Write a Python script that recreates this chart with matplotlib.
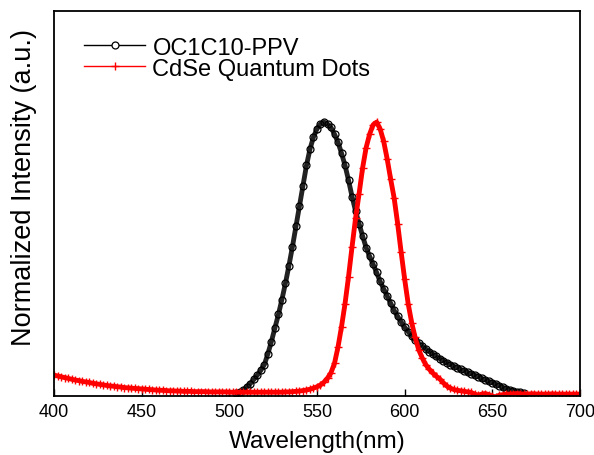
import matplotlib.pyplot as plt

# Espectros normalizados (nm, intensidad)
ppv_nm = [504, 506, 508, 510, 512, 514, 516, 518, 520, 522, 524, 526, 528, 530,
          532, 534, 536, 538, 540, 542, 544, 546, 548, 550, 552, 554, 556, 558,
          560, 562, 564, 566, 568, 570, 572, 574, 576, 578, 580, 582, 584, 586,
          588, 590, 592, 594, 596, 598, 600, 602, 604, 606, 608, 610, 612, 614,
          616, 618, 620, 622, 624, 626, 628, 630, 632, 634, 636, 638, 640, 642,
          644, 646, 648, 650, 652, 654, 656, 658, 660, 662, 664, 666, 668]
ppv_int = [0.000, 0.003, 0.010, 0.022, 0.035, 0.050, 0.066, 0.084, 0.105, 0.145,
           0.190, 0.240, 0.290, 0.345, 0.405, 0.470, 0.540, 0.615, 0.690, 0.765,
           0.840, 0.900, 0.945, 0.975, 0.993, 1.000, 0.993, 0.980, 0.955, 0.925,
           0.885, 0.840, 0.785, 0.725, 0.672, 0.625, 0.580, 0.537, 0.505, 0.475,
           0.445, 0.412, 0.385, 0.358, 0.332, 0.305, 0.283, 0.262, 0.243, 0.226,
           0.210, 0.196, 0.184, 0.173, 0.163, 0.153, 0.144, 0.135, 0.127, 0.119,
           0.112, 0.105, 0.099, 0.093, 0.087, 0.081, 0.076, 0.071, 0.066, 0.060,
           0.054, 0.048, 0.043, 0.038, 0.033, 0.027, 0.021, 0.016, 0.011, 0.007,
           0.004, 0.002, 0.000]

qd_nm = list(range(400, 702, 2))
qd_int = [0.066, 0.063, 0.060, 0.057, 0.054, 0.051, 0.048, 0.046, 0.043, 0.041,  # 400-418
          0.039, 0.036, 0.034, 0.032, 0.030, 0.028, 0.026, 0.025, 0.023, 0.022,  # 420-438
          0.020, 0.019, 0.018, 0.017, 0.016, 0.015, 0.014, 0.013, 0.012, 0.011,  # 440-458
          0.010, 0.010, 0.009, 0.008, 0.008, 0.007, 0.007, 0.006, 0.006, 0.006,  # 460-478
          0.005, 0.005, 0.005, 0.005, 0.004, 0.004, 0.004, 0.004, 0.004, 0.004,  # 480-498
          0.003, 0.003, 0.003, 0.003, 0.003, 0.003, 0.003, 0.003, 0.003, 0.003,  # 500-518
          0.003, 0.003, 0.003, 0.003, 0.003, 0.003, 0.004, 0.004, 0.005, 0.006,  # 520-538
          0.007, 0.009, 0.011, 0.014, 0.018, 0.023, 0.030, 0.040, 0.055, 0.075,  # 540-558
          0.110, 0.170, 0.245, 0.330, 0.430, 0.540, 0.645, 0.735, 0.830, 0.905,  # 560-578
          0.955, 0.990, 1.000, 0.975, 0.930, 0.865, 0.790, 0.720, 0.625, 0.520,  # 580-598
          0.420, 0.330, 0.260, 0.205, 0.160, 0.130, 0.105, 0.088, 0.074, 0.062,  # 600-618
          0.052, 0.038, 0.026, 0.018, 0.013, 0.010, 0.008, 0.006, 0.004, 0.002,  # 620-638
          -0.004, -0.008, -0.004, -0.002, -0.006, -0.012, -0.014, -0.008, -0.006, -0.004,  # 640-658
          -0.004, -0.003, -0.002, -0.003, -0.004, -0.004, -0.003, -0.003, -0.004, -0.004,  # 660-678
          -0.004, -0.004, -0.003, -0.004, -0.004, -0.004, -0.004, -0.004, -0.004, -0.004,  # 680-698
          -0.004]                                                                 # 700

xticks = [400, 450, 500, 550, 600, 650, 700]

plt.rcParams['font.family'] = ['Liberation Sans', 'DejaVu Sans']

fig = plt.figure(figsize=(5.94, 4.56), dpi=100)
ax = fig.add_axes([0.0909, 0.1294, 0.8855, 0.8443])

# Banda gruesa + marcadores (los datos originales son muy densos)
ax.plot(ppv_nm, ppv_int, color='#222222', lw=3.5, solid_capstyle='round')
ax.plot(ppv_nm, ppv_int, color='black', lw=0, marker='o', ms=5,
        mfc='none', mec='black', mew=0.9)
ax.plot(qd_nm, qd_int, color='red', lw=3.5, solid_capstyle='round')
ax.plot(qd_nm, qd_int, color='red', lw=0, marker='+', ms=6, mew=1.0)

# Entradas de la leyenda
ax.plot([], [], color='black', lw=1, marker='o', ms=5, mfc='white',
        mec='black', mew=0.9, label='OC1C10-PPV')
ax.plot([], [], color='red', lw=1, marker='+', ms=6, mew=1.0,
        label='CdSe Quantum Dots')

ax.set_xlim(400, 700)
ax.set_ylim(-0.011, 1.41)
ax.set_xticks(xticks)
ax.set_yticks([])
ax.tick_params(axis='x', direction='in', length=5, width=1, pad=5, labelsize=13)
for s in ax.spines.values():
    s.set_linewidth(1.3)

ax.set_xlabel('Wavelength(nm)', fontsize=17.5, labelpad=7)
ax.set_ylabel('Normalized Intensity (a.u.)', fontsize=19.5)
ax.yaxis.set_label_coords(-0.032, 0.543)

ax.legend(loc='upper left', bbox_to_anchor=(0.03, 0.97), frameon=False,
          fontsize=17, numpoints=1, handlelength=2.6, handletextpad=0.3,
          labelspacing=-0.05, borderaxespad=0.2)

fig.savefig('out.png', dpi=100)
